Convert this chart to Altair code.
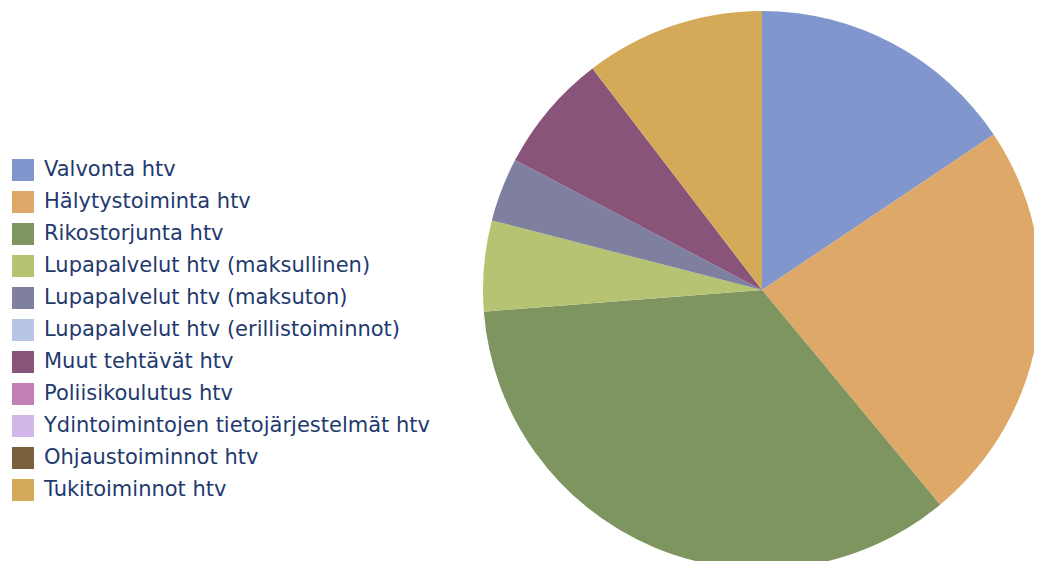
import altair as alt
import pandas as pd

categories = [
    "Valvonta htv",
    "Hälytystoiminta htv",
    "Rikostorjunta htv",
    "Lupapalvelut htv (maksullinen)",
    "Lupapalvelut htv (maksuton)",
    "Lupapalvelut htv (erillistoiminnot)",
    "Muut tehtävät htv",
    "Poliisikoulutus htv",
    "Ydintoimintojen tietojärjestelmät htv",
    "Ohjaustoiminnot htv",
    "Tukitoiminnot htv",
]
values = [15.6, 23.4, 34.8, 5.25, 3.7, 0.0, 6.9, 0.0, 0.0, 0.0, 10.4]
colors = ["#8096CC", "#DDA868", "#7F955F", "#B5C373", "#7F7FA0", "#B9C5E6",
          "#89547A", "#C27FB5", "#D2B8E8", "#7A603C", "#D4AA58"]

df = pd.DataFrame({"cat": categories, "val": values, "ord": list(range(len(categories)))})

chart = alt.Chart(df).mark_arc(radius=279, strokeWidth=0).encode(
    theta=alt.Theta("val:Q", stack=True),
    order=alt.Order("ord:Q"),
    x=alt.value(754),
    y=alt.value(282),
    color=alt.Color(
        "cat:N",
        sort=categories,
        scale=alt.Scale(domain=categories, range=colors),
        legend=alt.Legend(
            title=None,
            orient="none",
            legendX=4,
            legendY=151,
            symbolType="square",
            symbolSize=484,
            symbolStrokeWidth=0,
            symbolOpacity=1,
            labelFont="DejaVu Sans",
            labelFontSize=21,
            labelColor="#1F3A6E",
            labelLimit=600,
            rowPadding=10,
            labelOffset=10,
        ),
    ),
).properties(
    width=1026, height=553, padding=0, autosize=alt.AutoSizeParams(type="none")
).configure_view(stroke=None)

chart.save("out.html", embed_options={"renderer": "svg", "actions": False})
